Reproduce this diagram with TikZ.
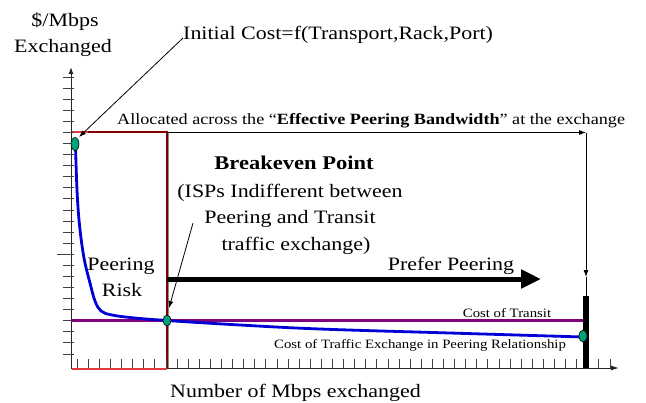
\documentclass[tikz,border=0pt]{standalone}
\usepackage{fontspec}
\setmainfont{Liberation Serif}[FakeStretch=1.16]
\usetikzlibrary{arrows.meta,shapes.geometric}
\definecolor{boxred}{RGB}{128,0,0}
\definecolor{lightred}{RGB}{225,60,60}
\definecolor{curveblue}{RGB}{0,0,215}
\definecolor{transit}{RGB}{128,0,128}
\definecolor{dotgreen}{RGB}{0,160,120}
\tikzset{
  lab/.style={inner sep=0pt, font=\fontsize{19}{22}\selectfont},
  midlab/.style={inner sep=0pt, font=\fontsize{15.7}{18}\selectfont},
  smalllab/.style={inner sep=0pt, font=\fontsize{12.8}{15}\selectfont},
  thinarrow/.style={line width=0.8bp, -{Latex[length=7bp,width=5bp]}},
  axisline/.style={line width=1bp, draw=black!85},
  tickline/.style={line width=0.9bp, draw=black!75},
  gdot/.style={ellipse, draw=black, line width=0.6bp, fill=dotgreen, inner sep=0pt, minimum width=8bp, minimum height=13bp},
}
\begin{document}
\begin{tikzpicture}[x=1bp,y=-1bp]
\useasboundingbox (0,0) rectangle (646,402);
% box
\draw[boxred, line width=1.2bp] (71.5,369) -- (71.5,132) -- (167,132) -- (167,369);
\draw[lightred, line width=1.2bp] (71.5,369) -- (167,369);
\draw[lightred, line width=1.2bp] (71.5,132) -- (88,132);
\draw[black!45, line width=0.8bp] (168.6,132) -- (168.6,369);
% axes
\coordinate (yo) at (71,369);
\coordinate (ytop) at (71,67);
\coordinate (xo) at (167,368);
\coordinate (xend) at (619,368);
\draw[axisline, -{Latex[length=7bp,width=5bp]}] (yo) -- (ytop);
\draw[axisline, -{Latex[length=8bp,width=5bp]}] (xo) -- (xend);
\foreach \k in {0,...,25} \draw[tickline] (63,{354-11.08*\k}) -- (74,{354-11.08*\k});
\draw[tickline] (57,254) -- (74,254);
\foreach \k in {0,...,48} \draw[tickline] ({77.2+11.1*\k},368) -- ({77.2+11.1*\k},359);
% transit line
\coordinate (tr0) at (71,320.5);
\coordinate (tr1) at (586,320.5);
\draw[transit, line width=2.2bp] (tr0) -- (tr1);
% blue curve
\draw[curveblue, line width=2.8bp] plot[smooth, tension=0.6] coordinates {(75.5,146) (77,190) (79.5,225) (84,258) (90,283) (95,301) (101,311) (112,315) (135,318) (167,320.5) (240,325) (320,329) (450,333) (583,337)};
% thick bar
\node[fill=black, minimum width=6bp, minimum height=72bp, inner sep=0pt] (bar) at (586,332) {};
% dots
\node[gdot] (e1) at (75,144) {};
\node[gdot, minimum height=11bp] (e2) at (167,320.5) {};
\node[gdot, minimum height=12bp] (e3) at (583,336) {};
% allocated arrows
\coordinate (al0) at (167,132.5);
\coordinate (alc) at (586,132.5);
\coordinate (aldown) at (586,277);
\draw[thinarrow] (al0) -- (alc);
\draw[thinarrow] (alc) -- (aldown);
\draw[line width=0.8bp] (aldown) -- (bar.north);
% prefer peering arrow
\coordinate (pp0) at (167,279);
\coordinate (pp1) at (541,279);
\draw[line width=5bp, -{Triangle[length=20bp,width=18bp]}] (pp0) -- (pp1);
% texts
\node[lab, anchor=base] (ylab1) at (65,26) {\$/Mbps};
\node[lab, anchor=base] (ylab2) at (63,52) {Exchanged};
\node[lab, anchor=base west] (init) at (183,39.5) {Initial Cost=f(Transport,Rack,Port)};
\node[midlab, anchor=base west] (alloc) at (117,124) {Allocated across the ``\textbf{Effective Peering Bandwidth}'' at the exchange};
\node[lab, anchor=base, font=\fontsize{19.5}{22}\selectfont\bfseries] (be1) at (294,169) {Breakeven Point};
\node[lab, anchor=base] (be2) at (290,197) {(ISPs Indifferent between};
\node[lab, anchor=base] (be3) at (290,223) {Peering and Transit};
\node[lab, anchor=base] (be4) at (296,250) {traffic exchange)};
\node[lab, anchor=base] (risk1) at (121,270) {Peering};
\node[lab, anchor=base] (risk2) at (122,296) {Risk};
\node[lab, anchor=base] (prefer) at (451,270) {Prefer Peering};
\node[smalllab, anchor=base] (costtr) at (507,317) {Cost of Transit};
\node[smalllab, anchor=base west] (costpe) at (274,348) {Cost of Traffic Exchange in Peering Relationship};
\node[lab, anchor=base west] (xlab) at (170,397) {Number of Mbps exchanged};
% pointer arrows
\coordinate (ic) at (183,38);
\coordinate (ictip) at (79,137);
\draw[thinarrow] (ic) -- (ictip);
\coordinate (bk) at (193,223);
\coordinate (bktip) at (169,308);
\draw[thinarrow] (bk) -- (bktip);
\end{tikzpicture}
\end{document}
